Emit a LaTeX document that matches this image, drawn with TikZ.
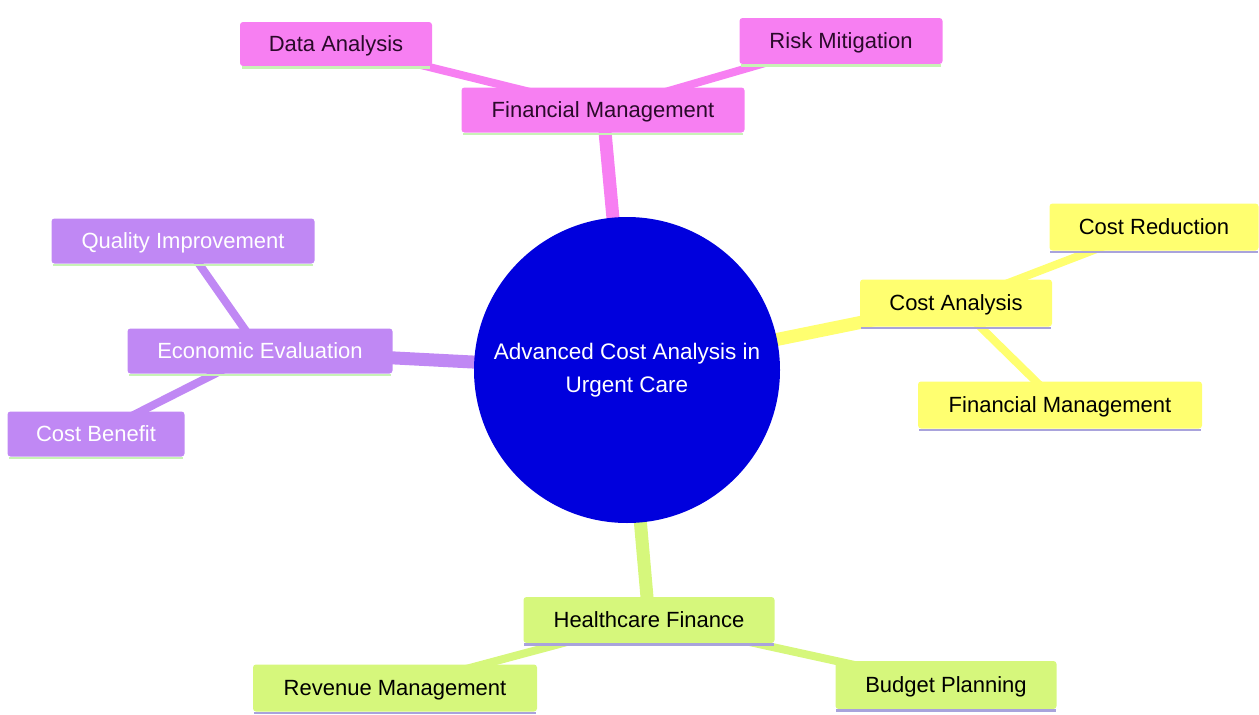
\documentclass[tikz,border=0pt]{standalone}
\usepackage{fontspec}
\setmainfont{Liberation Sans}
\usetikzlibrary{backgrounds}
\definecolor{cpink}{HTML}{F77FF2}
\definecolor{cpurple}{HTML}{C088F4}
\definecolor{cyellow}{HTML}{FFFF70}
\definecolor{cgreen}{HTML}{D6F77C}
\definecolor{cblue}{HTML}{0000DD}
\definecolor{lgreen}{HTML}{C8F2B6}
\definecolor{lav}{HTML}{A9A3DC}
\definecolor{dtext}{HTML}{2A0A2A}
\tikzset{
  mm/.style={rectangle, rounded corners=3pt, inner sep=0pt, font=\fontsize{22}{26}\selectfont, align=center, text depth=1pt},
  pinkbox/.style={mm, fill=cpink, text=dtext},
  purplebox/.style={mm, fill=cpurple, text=white},
  yellowbox/.style={mm, fill=cyellow, text=black},
  greenbox/.style={mm, fill=cgreen, text=black},
  mainedge/.style={line width=13pt},
  subedge/.style={line width=8pt},
}
\newcommand{\mmnode}[7]{%
  \node[#1, minimum width=#5pt, minimum height=#6pt] (#2) at (#3,#4) {#7};
}
\begin{document}
\begin{tikzpicture}[x=1pt,y=-1pt]
\useasboundingbox (0,0) rectangle (1259,715);
% center
\node[circle, fill=cblue, minimum size=306pt, inner sep=0pt, text=white, align=center, font=\fontsize{22.5}{33}\selectfont] (root) at (627,370) {Advanced Cost Analysis in\\Urgent Care};
% top pink
\mmnode{pinkbox}{fm1}{603}{110}{283}{45}{Financial Management}
\mmnode{pinkbox}{da}{336}{44}{192}{44}{Data Analysis}
\mmnode{pinkbox}{rm}{841}{41}{203}{46}{Risk Mitigation}
% left purple
\mmnode{purplebox}{ee}{260}{351}{265}{45}{Economic Evaluation}
\mmnode{purplebox}{qi}{183}{241}{263}{45}{Quality Improvement}
\mmnode{purplebox}{cb}{96}{434}{177}{45}{Cost Benefit}
% right yellow
\mmnode{yellowbox}{ca}{956}{303}{192}{47}{Cost Analysis}
\mmnode{yellowbox}{cr}{1154}{227}{209}{47}{Cost Reduction}
\mmnode{yellowbox}{fm2}{1060}{405}{284}{47}{Financial Management}
% bottom green
\mmnode{greenbox}{hf}{649}{620}{251}{46}{Healthcare Finance}
\mmnode{greenbox}{rev}{395}{688}{284}{47}{Revenue Management}
\mmnode{greenbox}{bp}{946}{685}{221}{48}{Budget Planning}
% underlines
\foreach \n in {fm1,da,rm,ee,qi,cb}{
  \draw[lgreen, line width=2.5pt] ([xshift=2pt,yshift=-1.2pt]\n.south west) -- ([xshift=-2pt,yshift=-1.2pt]\n.south east);
}
\foreach \n in {ca,cr,fm2,hf,rev,bp}{
  \draw[lav, line width=2.5pt] ([xshift=1pt,yshift=-1.2pt]\n.south west) -- ([xshift=-1pt,yshift=-1.2pt]\n.south east);
}
\begin{scope}[on background layer]
\draw[cpink, mainedge] (root.center) -- (fm1.center);
\draw[cpink, subedge] (fm1.center) -- (da.center);
\draw[cpink, subedge] (fm1.center) -- (rm.center);
\draw[cpurple, mainedge] (root.center) -- (ee.center);
\draw[cpurple, subedge] (ee.center) -- (qi.center);
\draw[cpurple, subedge] (ee.center) -- (cb.center);
\draw[cyellow, mainedge] (root.center) -- (ca.center);
\draw[cyellow, subedge] (ca.center) -- (cr.center);
\draw[cyellow, subedge] (ca.center) -- (fm2.center);
\draw[cgreen, mainedge] (root.center) -- (hf.center);
\draw[cgreen, subedge] (hf.center) -- (rev.center);
\draw[cgreen, subedge] (hf.center) -- (bp.center);
\end{scope}
\end{tikzpicture}
\end{document}
